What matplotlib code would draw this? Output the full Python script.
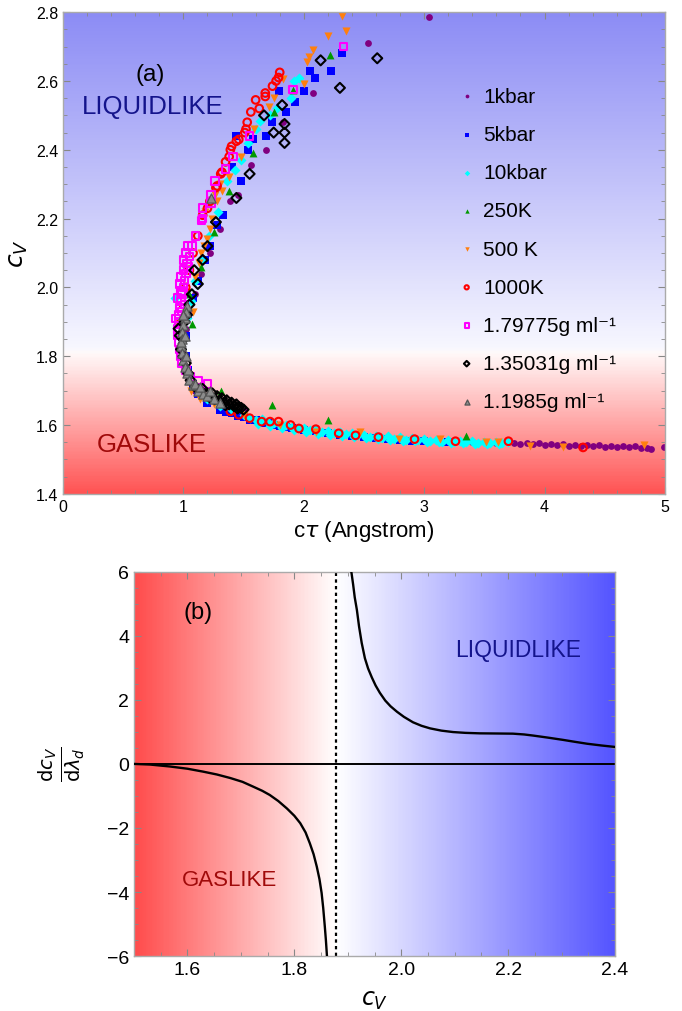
import numpy as np
import matplotlib
matplotlib.use("Agg")
import matplotlib.pyplot as plt
from matplotlib.colors import LinearSegmentedColormap
from matplotlib.ticker import MultipleLocator

plt.rcParams['font.family'] = ['Liberation Sans', 'DejaVu Sans']
plt.rcParams['mathtext.fontset'] = 'dejavusans'

# ---- panel (a): c_tau (Angstrom) vs c_V ----
kbar1_x = [3.04, 2.53, 2.08, 1.83, 1.69, 1.56, 1.45, 1.39, 1.30, 1.22, 1.15, 1.10, 1.05, 1.02,
           1.02, 1.05, 1.10, 1.30, 1.50, 1.60, 1.80, 2.00, 2.20, 2.40, 2.60, 2.80, 3.00, 3.20,
           3.40, 3.60, 3.70, 3.75, 3.80, 3.85, 3.90, 3.95, 4.00, 4.05, 4.10, 4.15, 4.20, 4.25,
           4.30, 4.35, 4.40, 4.45, 4.50, 4.55, 4.60, 4.65, 4.70, 4.75, 4.80, 4.85, 4.88, 4.99]
kbar1_y = [2.785, 2.71, 2.565, 2.48, 2.40, 2.355, 2.27, 2.25, 2.17, 2.10, 2.04, 1.98, 1.93, 1.88,
           1.80, 1.74, 1.70, 1.66, 1.64, 1.615, 1.60, 1.59, 1.58, 1.572, 1.565, 1.56, 1.556, 1.553,
           1.55, 1.548, 1.551, 1.548, 1.546, 1.548, 1.545, 1.547, 1.543, 1.546, 1.542, 1.544, 1.540,
           1.543, 1.539, 1.542, 1.538, 1.541, 1.537, 1.540, 1.536, 1.539, 1.536, 1.538, 1.534, 1.532,
           1.530, 1.535]

kbar5_x = [2.32, 2.23, 2.09, 2.05, 2.00, 1.93, 1.85, 1.79, 1.74, 1.69, 1.58, 1.54, 1.48, 1.44,
           1.40, 1.33, 1.28, 1.22, 1.18, 1.12, 1.08, 1.04, 1.02, 1.02, 1.04, 1.08, 1.12, 1.20,
           1.30, 1.40, 1.50, 1.60, 1.70, 1.80, 1.90, 2.00, 2.10, 2.20, 2.30, 2.40, 2.50, 2.60,
           2.70, 2.80, 2.90, 3.00, 3.20, 1.35, 1.45, 1.55, 1.65, 1.75, 1.85, 1.95]
kbar5_y = [2.68, 2.63, 2.61, 2.63, 2.57, 2.54, 2.51, 2.57, 2.48, 2.44, 2.43, 2.40, 2.31, 2.44,
           2.35, 2.21, 2.18, 2.12, 2.08, 2.02, 1.97, 1.92, 1.86, 1.80, 1.76, 1.72, 1.69, 1.665,
           1.645, 1.635, 1.622, 1.615, 1.605, 1.597, 1.592, 1.586, 1.582, 1.577, 1.572, 1.569,
           1.566, 1.563, 1.560, 1.557, 1.555, 1.553, 1.550, 1.638, 1.626, 1.616, 1.607, 1.600,
           1.594, 1.588]

kbar10_x = [1.96, 1.92, 1.89, 1.78, 1.72, 1.64, 1.60, 1.54, 1.48, 1.43, 1.36, 1.29, 1.21, 1.15,
            1.10, 1.06, 1.03, 1.00, 0.93, 1.12, 1.20, 1.30, 1.40, 1.50, 1.55, 1.60, 1.65, 1.70,
            1.75, 1.80, 1.85, 1.90, 1.95, 2.00, 2.05, 2.10, 2.15, 2.20, 2.25, 2.30, 2.35, 2.40,
            2.45, 2.50, 2.55, 2.60, 2.65, 2.70, 2.75, 2.80, 2.85, 2.90, 2.95, 3.00, 3.05, 3.10,
            3.15, 3.20, 3.25, 3.30, 3.35, 3.40, 3.45, 3.50, 3.55, 3.60, 3.65, 3.70,
            1.62, 1.72, 1.82, 1.92, 2.02, 2.12, 2.22, 2.32, 2.42, 2.52, 2.62, 2.72, 2.82, 2.92,
            3.02, 3.12, 3.22, 3.32, 3.42, 3.52, 3.62]
kbar10_y = [2.61, 2.60, 2.55, 2.52, 2.50, 2.485, 2.46, 2.42, 2.37, 2.34, 2.31, 2.22, 2.15, 2.08,
            2.02, 1.96, 1.91, 1.86, 1.97, 1.70, 1.675, 1.655, 1.645, 1.63, 1.62, 1.615, 1.618,
            1.61, 1.605, 1.60, 1.60, 1.595, 1.592, 1.59, 1.585, 1.588, 1.58, 1.583, 1.578, 1.58,
            1.574, 1.576, 1.57, 1.572, 1.566, 1.569, 1.563, 1.567, 1.56, 1.564, 1.558, 1.562,
            1.556, 1.56, 1.554, 1.558, 1.552, 1.556, 1.55, 1.555, 1.55, 1.553, 1.548, 1.552,
            1.548, 1.551, 1.547, 1.55,
            1.603, 1.598, 1.592, 1.586, 1.579, 1.574, 1.570, 1.567, 1.564, 1.561, 1.559, 1.556,
            1.554, 1.553, 1.551, 1.550, 1.549, 1.547, 1.546, 1.545, 1.544]

k250_x = [2.22, 1.91, 1.75, 1.58, 1.38, 1.25, 1.15, 1.07, 1.31, 1.74, 2.20, 3.35, 1.05, 1.10]
k250_y = [2.675, 2.575, 2.51, 2.39, 2.28, 2.16, 2.06, 1.895, 1.70, 1.657, 1.614, 1.567, 1.98, 1.72]

k500_x = [2.32, 2.35, 2.20, 2.08, 2.04, 2.03, 2.00, 1.83, 1.75, 1.71, 1.59, 1.48, 1.38, 1.32,
          1.28, 1.24, 1.22, 1.20, 1.17, 1.15, 1.13, 1.10, 1.08, 1.06, 1.14, 1.25, 1.50, 1.80,
          2.10, 2.47, 2.79, 3.13, 3.51, 3.61, 3.88, 4.15, 4.83, 1.26, 1.30, 1.18]
k500_y = [2.79, 2.745, 2.73, 2.69, 2.67, 2.655, 2.59, 2.605, 2.55, 2.525, 2.46, 2.38, 2.32, 2.28,
          2.25, 2.20, 2.17, 2.14, 2.12, 2.10, 2.07, 2.03, 1.93, 1.70, 1.675, 1.66, 1.63, 1.60,
          1.58, 1.579, 1.559, 1.559, 1.55, 1.55, 1.54, 1.535, 1.541, 2.27, 2.30, 2.22]

k1000_x = [1.80, 1.79, 1.77, 1.74, 1.68, 1.68, 1.60, 1.63, 1.56, 1.53, 1.52, 1.51, 1.46, 1.44,
           1.40, 1.39, 1.38, 1.35, 1.32, 1.31, 1.28, 1.27, 1.22, 1.20, 1.16, 1.12, 1.08, 1.05,
           1.02, 1.00, 0.98, 1.39, 1.46, 1.55, 1.65, 1.72, 1.79, 1.89, 1.96, 2.10, 2.29, 2.43,
           2.62, 2.92, 3.26, 3.70, 4.32]
k1000_y = [2.625, 2.61, 2.60, 2.585, 2.565, 2.555, 2.545, 2.52, 2.51, 2.48, 2.46, 2.45, 2.43, 2.425,
           2.41, 2.40, 2.38, 2.365, 2.335, 2.33, 2.295, 2.29, 2.25, 2.23, 2.21, 2.15, 2.10, 2.05,
           2.00, 1.95, 1.90, 1.64, 1.63, 1.62, 1.61, 1.61, 1.61, 1.60, 1.59, 1.588, 1.576, 1.57,
           1.565, 1.559, 1.553, 1.553, 1.535]

d179_x = [2.33, 1.91, 1.55, 1.41, 1.35, 1.26, 1.23, 1.23, 1.16, 1.16, 1.15, 1.10, 1.07, 1.05,
          1.04, 1.02, 1.01, 1.00, 0.99, 0.98, 0.97, 0.96, 0.96, 0.95, 0.95, 0.96, 0.97, 0.98,
          0.99, 1.02, 1.06, 1.12, 1.20, 1.00, 1.02, 0.98, 0.95, 0.97, 0.94, 0.96, 0.98, 1.00,
          1.03, 0.99, 1.01, 1.04]
d179_y = [2.70, 2.575, 2.44, 2.38, 2.345, 2.31, 2.27, 2.245, 2.23, 2.20, 2.195, 2.15, 2.12, 2.09,
          2.06, 2.04, 2.02, 2.00, 1.98, 1.96, 1.94, 1.92, 1.90, 1.88, 1.86, 1.84, 1.82, 1.80,
          1.78, 1.76, 1.74, 1.73, 1.72, 2.08, 2.10, 2.03, 1.97, 2.01, 1.91, 1.87, 1.99, 2.05,
          2.07, 1.93, 1.95, 2.12]

d135_x = [2.61, 2.14, 2.30, 1.82, 1.67, 1.75, 1.84, 1.84, 1.84, 1.55, 1.44, 1.27, 1.20, 1.16,
          1.12, 1.09, 1.07, 1.05, 1.03, 1.01, 1.00, 0.98, 1.00, 1.02, 1.04, 1.06, 1.10, 1.14,
          1.18, 1.22, 1.26, 1.30, 1.34, 1.38, 1.42, 1.46, 1.48, 1.44, 1.40, 1.36, 1.32, 1.28,
          1.24, 1.16, 0.97, 0.96, 1.50, 1.45, 1.35]
d135_y = [2.666, 2.66, 2.58, 2.53, 2.50, 2.45, 2.45, 2.42, 2.475, 2.33, 2.26, 2.19, 2.12, 2.08,
          2.01, 2.05, 1.98, 1.95, 1.92, 1.90, 1.85, 1.82, 1.80, 1.78, 1.75, 1.73, 1.71, 1.70,
          1.69, 1.68, 1.675, 1.67, 1.665, 1.66, 1.655, 1.652, 1.65, 1.66, 1.665, 1.672, 1.678,
          1.684, 1.692, 1.705, 1.86, 1.88, 1.645, 1.648, 1.658]

d119_x = [1.03, 1.02, 1.01, 1.00, 0.99, 0.99, 0.98, 0.99, 1.00, 1.01, 1.03, 1.05, 1.08, 1.12,
          1.16, 1.20, 1.25, 1.30, 1.22, 1.00, 0.98, 1.01, 1.02, 1.04, 1.23, 1.10, 1.14]
d119_y = [1.945, 1.93, 1.91, 1.89, 1.87, 1.85, 1.83, 1.81, 1.79, 1.77, 1.75, 1.73, 1.715, 1.70,
          1.69, 1.685, 1.675, 1.665, 1.70, 1.92, 1.84, 1.86, 1.80, 1.76, 2.26, 1.72, 1.71]

# ---- panel (b): dc_V/dlambda_d vs c_V ----
right_cv = [1.903, 1.907, 1.910, 1.913, 1.917, 1.921, 1.926, 1.932, 1.938, 1.945, 1.952, 1.960,
            1.970, 1.980, 1.992, 2.005, 2.022, 2.038, 2.054, 2.075, 2.097, 2.120, 2.147, 2.180,
            2.209, 2.230, 2.247, 2.275, 2.303, 2.325, 2.348, 2.375, 2.400]
right_dc = [6.3, 5.96, 5.6, 5.2, 4.81, 4.3, 3.78, 3.3, 2.98, 2.70, 2.45, 2.22,
            1.98, 1.80, 1.63, 1.47, 1.30, 1.19, 1.11, 1.04, 0.995, 0.97, 0.955, 0.95,
            0.945, 0.92, 0.885, 0.82, 0.75, 0.69, 0.63, 0.575, 0.53]
left_cv = [1.500, 1.530, 1.567, 1.600, 1.629, 1.655, 1.680, 1.703, 1.723, 1.740, 1.754, 1.770,
           1.786, 1.800, 1.811, 1.821, 1.829, 1.836, 1.842, 1.847, 1.851, 1.854, 1.857, 1.859,
           1.861, 1.863]
left_dc = [0.0, -0.02, -0.08, -0.15, -0.24, -0.33, -0.44, -0.56, -0.71, -0.84, -0.97, -1.16,
           -1.39, -1.62, -1.85, -2.14, -2.48, -2.82, -3.21, -3.6, -4.03, -4.5, -5.08, -5.5,
           -6.0, -6.3]
cv_split = 1.878

fig = plt.figure(figsize=(6.82, 10.12), dpi=100)

# ------------------- panel (a) -------------------
ax1 = fig.add_axes([0.0924, 0.511, 0.8826, 0.476])
cmap_a = LinearSegmentedColormap.from_list(
    "a_bg", [(0.0, (1.0, 0.33, 0.33)), (0.293, (1.0, 0.98, 0.98)),
             (0.30, (0.97, 0.97, 1.0)), (1.0, (0.55, 0.55, 0.96))])
ax1.imshow(np.linspace(0, 1, 400).reshape(-1, 1), cmap=cmap_a, origin='lower',
           extent=[0, 5, 1.4, 2.8], aspect='auto', zorder=0)

ax1.scatter(kbar1_x, kbar1_y, s=24, marker='o', color='#800080', lw=0, label='1kbar', zorder=2)
ax1.scatter(kbar5_x, kbar5_y, s=26, marker='s', color='#0000ff', lw=0, label='5kbar', zorder=2)
ax1.scatter(kbar10_x, kbar10_y, s=26, marker='D', color='#00ffff', lw=0, label='10kbar', zorder=2)
ax1.scatter(k250_x, k250_y, s=32, marker='^', color='#009900', lw=0, label='250K', zorder=2)
ax1.scatter(k500_x, k500_y, s=34, marker='v', color='#ff7f0e', lw=0, label='500 K', zorder=2)
ax1.scatter(k1000_x, k1000_y, s=30, marker='o', facecolors='none', edgecolors='#ff0000',
            lw=1.5, label='1000K', zorder=2)
ax1.scatter(d179_x, d179_y, s=30, marker='s', facecolors='none', edgecolors='#ff00ff',
            lw=1.5, label='1.79775g ml\u207b\u00b9', zorder=2)
ax1.scatter(d135_x, d135_y, s=26, marker='D', facecolors='none', edgecolors='black',
            lw=1.5, label='1.35031g ml\u207b\u00b9', zorder=2)
ax1.scatter(d119_x, d119_y, s=44, marker='^', facecolors='#8c8c8c', edgecolors='#555555',
            lw=0.9, label='1.1985g ml\u207b\u00b9', zorder=2)

ax1.set_xlim(0, 5)
ax1.set_ylim(1.4, 2.8)
ax1.xaxis.set_major_locator(MultipleLocator(1))
ax1.xaxis.set_minor_locator(MultipleLocator(0.2))
ax1.yaxis.set_major_locator(MultipleLocator(0.2))
ax1.yaxis.set_minor_locator(MultipleLocator(0.05))
ax1.set_yticklabels([f"{v:.1f}" for v in ax1.get_yticks()])
ax1.set_xlabel(r'c$\tau$ (Angstrom)', fontsize=16, labelpad=3)
ax1.set_ylabel(r'$c_V$', fontsize=18, labelpad=4)
ax1.set_xlim(0, 5)
ax1.set_ylim(1.4, 2.8)

ax1.text(0.72, 2.62, '(a)', fontsize=17.5, ha='center', va='center')
ax1.text(0.16, 2.527, 'LIQUIDLIKE', fontsize=18.5, color='#14148c', va='center')
ax1.text(0.28, 1.544, 'GASLIKE', fontsize=18.5, color='#a00a0a', va='center')

ax1.legend(loc='upper left', bbox_to_anchor=(0.636, 0.862), frameon=False, fontsize=15,
           labelspacing=0.92, handletextpad=0.2, handlelength=1.2, markerscale=0.55,
           borderaxespad=0)

# ------------------- panel (b) -------------------
ax2 = fig.add_axes([0.1965, 0.0543, 0.7053, 0.3797])
cmap_b = LinearSegmentedColormap.from_list(
    "b_bg", [(0.0, (1.0, 0.30, 0.30)), ((cv_split - 1.5) / 0.9, (1.0, 1.0, 1.0)),
             (1.0, (0.33, 0.33, 1.0))])
ax2.imshow(np.linspace(0, 1, 400).reshape(1, -1), cmap=cmap_b, origin='lower',
           extent=[1.5, 2.4, -6, 6], aspect='auto', zorder=0)

ax2.axhline(0, color='black', lw=1.4, zorder=2)
ax2.axvline(cv_split, color='black', lw=1.6, ls=(0, (1.5, 1.5)), zorder=2)
ax2.plot(right_cv, right_dc, color='black', lw=1.7, zorder=3)
ax2.plot(left_cv, left_dc, color='black', lw=1.7, zorder=3)

ax2.set_xlim(1.5, 2.4)
ax2.set_ylim(-6, 6)
ax2.xaxis.set_major_locator(MultipleLocator(0.2))
ax2.xaxis.set_minor_locator(MultipleLocator(0.05))
ax2.yaxis.set_major_locator(MultipleLocator(2))
ax2.yaxis.set_minor_locator(MultipleLocator(0.5))
ax2.set_xticks([1.6, 1.8, 2.0, 2.2, 2.4])
ax2.set_xticklabels(['1.6', '1.8', '2.0', '2.2', '2.4'])
ax2.set_xlim(1.5, 2.4)
ax2.set_xlabel(r'$c_V$', fontsize=17, labelpad=8)
ax2.set_ylabel(r'$\frac{\mathrm{d}c_V}{\mathrm{d}\lambda_d}$', fontsize=20, labelpad=14)

ax2.text(1.62, 4.75, '(b)', fontsize=17, ha='center', va='center')
ax2.text(2.10, 3.56, 'LIQUIDLIKE', fontsize=16.5, color='#14148c', va='center')
ax2.text(1.59, -3.6, 'GASLIKE', fontsize=16, color='#a00a0a', va='center')

for ax, lsize in ((ax1, 11.5), (ax2, 14)):
    for sp in ax.spines.values():
        sp.set_color('#aaaaaa')
        sp.set_linewidth(1.0)
    ax.tick_params(which='both', direction='in', top=True, right=True, color='#888888',
                   labelsize=lsize)
    ax.tick_params(which='major', length=5)
    ax.tick_params(which='minor', length=3)

fig.savefig('out.png', dpi=100)
